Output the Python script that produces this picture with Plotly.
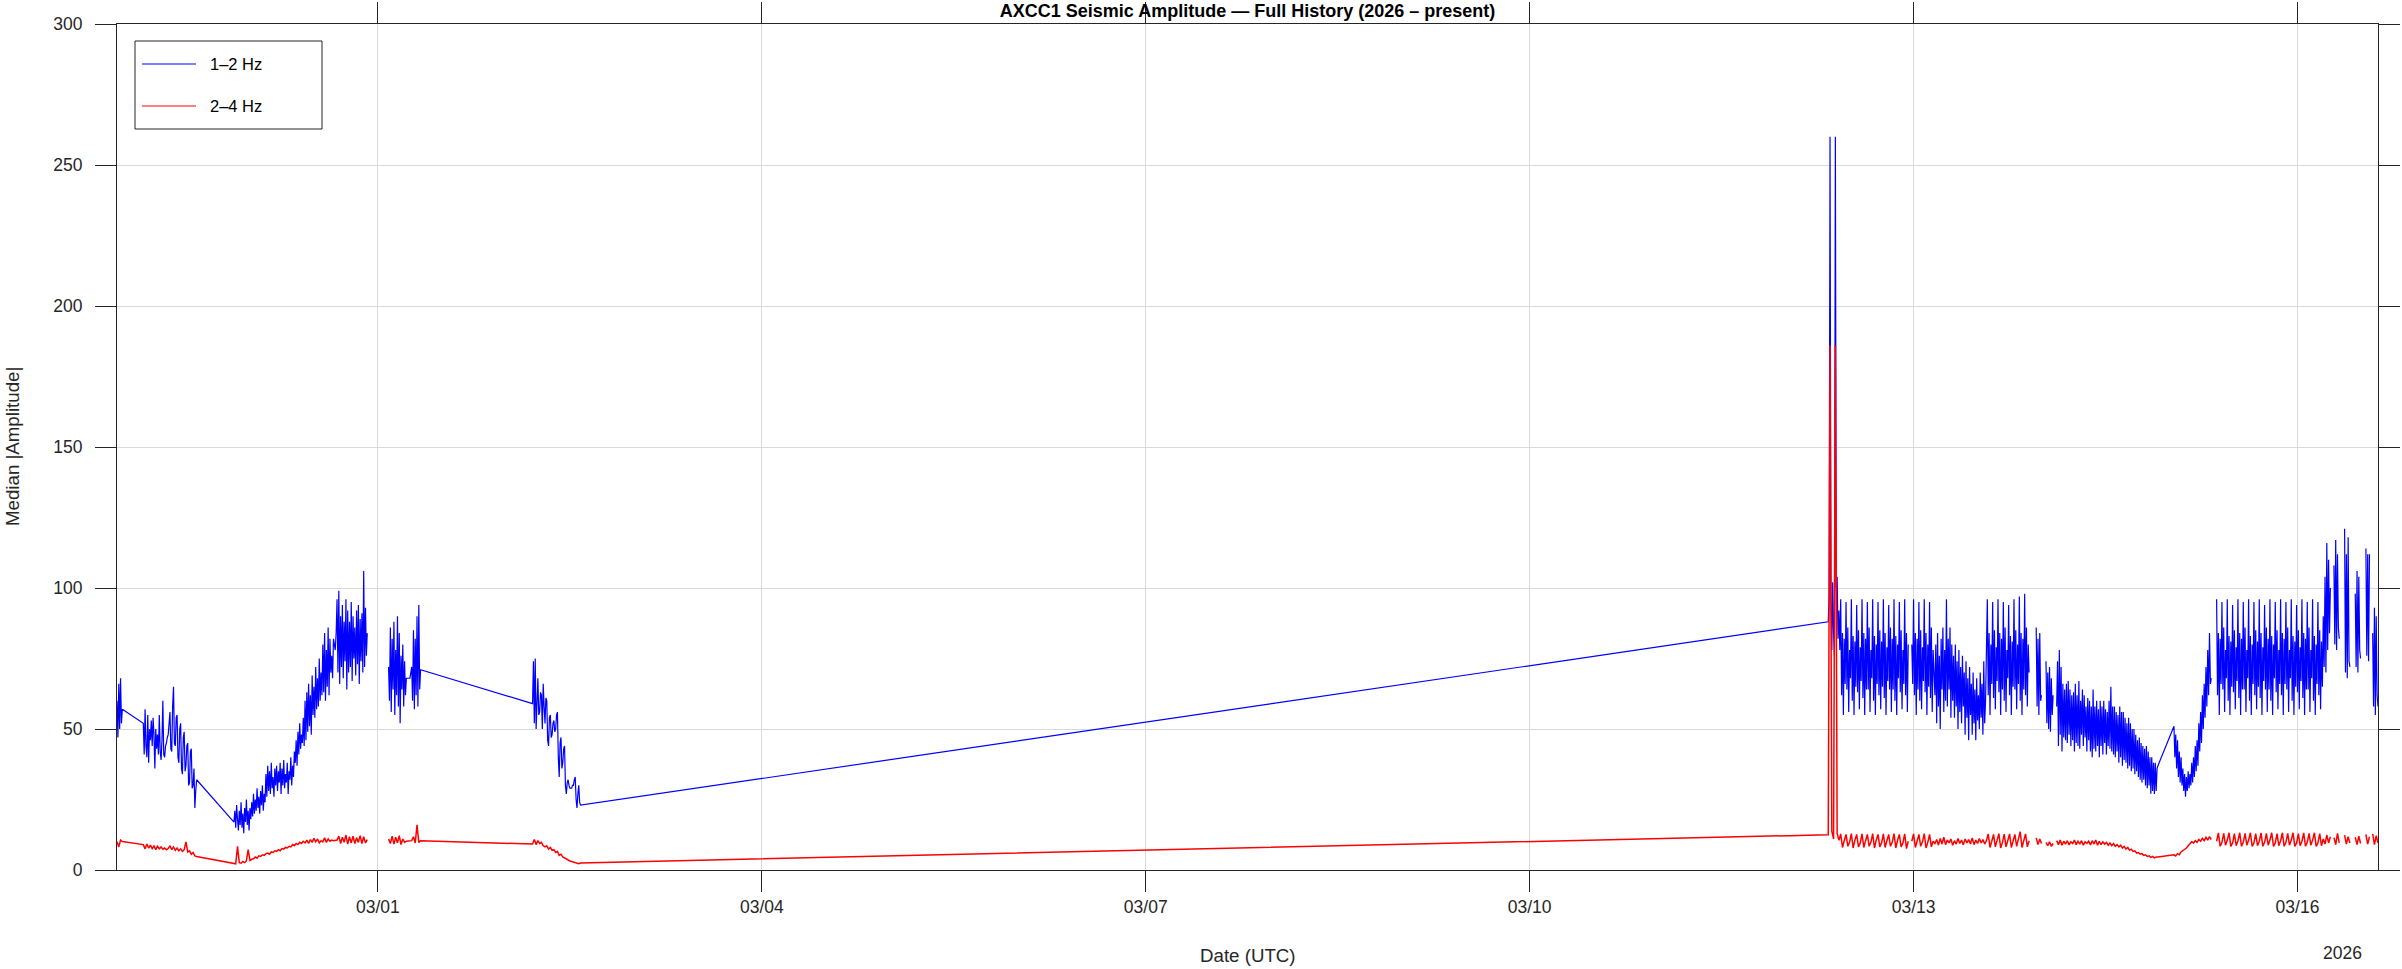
import pandas as pd
import plotly.graph_objects as go

# segment start times and whether each segment is joined to the previous one
seg_start = [
    "2026-02-26 23:04", "2026-02-27 04:00", "2026-02-27 21:00", "2026-03-01 02:00",
    "2026-03-02 05:00", "2026-03-12 08:00", "2026-03-12 23:40", "2026-03-13 23:00",
    "2026-03-14 00:50", "2026-03-14 02:50", "2026-03-15 00:50", "2026-03-15 08:50",
    "2026-03-16 06:50", "2026-03-16 08:50", "2026-03-16 10:50", "2026-03-16 12:50",
    "2026-03-16 14:06",
]
seg_joined = [True, True, True, False, True, True, False, False,
              False, False, True, False, False, False, False, False, False]

# 1-2 Hz median amplitude, 10 min samples
hz12_a = [60, 47, 66, 50, 68, 52, 57]
hz12_b = [52, 41, 57, 44, 40, 55, 38, 50, 46, 53, 44, 54, 48, 36, 50, 43, 48, 41, 55, 42,
          39, 46, 60, 41, 40, 44, 45, 47, 48, 52, 56, 43, 42, 58, 65, 45, 44, 54, 55, 40,
          38, 50, 52, 36, 34, 47, 49, 35, 37, 44, 45, 30, 31, 42, 43, 29, 30, 36, 22, 28,
          32]
hz12_c = [17, 21, 15, 23, 18, 14, 21, 16, 24, 15, 20, 13, 22, 17, 25, 16, 21, 14, 22, 18,
          24, 19, 27, 20, 25, 21, 29, 22, 26, 20, 28, 23, 30, 21, 27, 24, 34, 26, 37, 28,
          35, 27, 38, 29, 33, 26, 36, 30, 37, 28, 35, 31, 38, 27, 36, 30, 39, 29, 34, 31,
          38, 27, 35, 32, 40, 30, 37, 33, 42, 38, 46, 37, 49, 41, 52, 43, 48, 45, 54, 44,
          60, 46, 63, 49, 66, 51, 62, 48, 69, 55, 65, 54, 72, 57, 68, 58, 75, 60, 70, 62,
          80, 63, 84, 60, 78, 65, 86, 62, 82, 70, 76, 68, 82, 80, 78, 84, 96, 70, 99, 66,
          90, 72, 94, 68, 88, 74, 96, 64, 92, 70, 88, 72, 95, 67, 90, 75, 86, 69, 92, 73,
          94, 66, 89, 74, 91, 70, 106, 72, 93, 76, 84]
hz12_d = [72, 60, 86, 56, 82, 64, 88, 55, 78, 62, 90, 58, 84, 52, 76, 64, 80, 58, 74, 62,
          68, 68, 68, 68, 68, 70, 72, 60, 85, 57, 82, 62, 90, 58, 94, 64, 71]
hz12_e = [59, 74, 52, 75, 50, 64, 68, 55, 56, 63, 62, 50, 66, 58, 52, 61, 60, 46, 44, 54,
          55, 47, 48, 52, 53, 49, 50, 55, 56, 40, 33, 45, 47, 36, 38, 43, 44, 30, 27, 31,
          32, 30, 29, 29, 29, 30, 30, 32, 33, 25, 22, 27, 30, 24, 23]
hz12_f = [88, 98, 260, 96, 78, 102, 84, 76, 260, 100, 104, 82, 92, 78,
          96, 62, 84, 55, 82, 66, 95, 64, 86, 56, 78, 68, 96, 60, 83, 55, 81, 65,
          94, 63, 85, 57, 79, 67, 96, 61, 84, 55, 82, 64, 95, 64, 86, 56, 78, 68,
          96, 60, 83, 55, 80, 66, 95, 62, 85, 57, 81, 65, 96, 61, 84, 55, 79, 67,
          94, 64, 86, 56, 82, 64, 96, 60, 83, 55, 80, 68, 95, 63, 85, 57, 78, 66,
          96, 62, 84, 56, 80]
hz12_g = [80, 66, 96, 62, 84, 55, 82, 64, 95, 60, 85, 57, 79, 67, 96, 63, 84, 55, 80, 65,
          95, 61, 86, 56, 78, 70,
          62, 80, 52, 84, 58, 76, 50, 82, 64, 86, 56, 78, 60, 96, 58, 82, 64, 86, 54, 80,
          60, 76, 54, 80, 58, 74, 50, 78, 56, 72, 52, 76, 58, 70, 48, 74, 54, 68, 46, 72,
          55, 66, 48, 70, 52, 64, 46, 68, 53, 62, 50, 70, 54, 66, 48, 74, 52, 60,
          82, 96, 62, 84, 55, 80, 66, 95, 61, 85, 57, 79, 67, 96, 63, 84, 55, 82, 64,
          95, 60, 86, 56, 78, 68, 94, 62, 83, 55, 81, 65, 96, 64, 85, 57, 80, 66,
          97, 60, 84, 55, 82, 64, 98, 62, 86, 58, 80, 70]
hz12_h = [86, 58, 82, 55, 84, 60, 62]
hz12_i = [74, 52, 70, 50, 72, 49, 68, 55, 62]
hz12_j = [58, 74, 44, 78, 48, 72, 42, 66, 47, 64, 46, 66, 45, 67, 48, 64, 44, 62, 46, 63,
          42, 66, 45, 62, 44, 67, 43, 60, 48, 64, 44, 62, 47, 58, 42, 61, 46, 60, 42, 58,
          40, 64, 43, 58, 42, 60, 44, 57, 40, 60, 44, 58, 41, 60, 45, 57, 41, 56, 44, 60,
          43, 65, 42, 58, 41, 58, 40, 56, 42, 55, 38, 58, 40, 56, 37, 56, 39, 54, 38, 52,
          36, 54, 37, 52, 35, 50, 36, 50, 34, 48, 35, 46, 33, 47, 32, 45, 31, 44, 32, 43,
          30, 44, 29, 42, 30, 40, 27, 40, 28, 38, 27, 38, 28, 36, 37]
hz12_k = [51, 40, 48, 36, 46, 33, 42, 31, 40, 30, 36, 28, 34, 26, 33, 28, 35, 29, 34, 30,
          38, 31, 40, 33, 44, 35, 46, 37, 52, 42, 56, 45, 62, 50, 66, 54, 72, 58, 78, 62,
          84, 66, 68]
hz12_l = [96, 62, 84, 55, 82, 66, 95, 64, 86, 56, 78, 68, 96, 60, 83, 55, 81, 65,
          94, 63, 85, 57, 79, 67, 96, 61, 84, 55, 82, 64, 95, 64, 86, 56, 78, 68,
          96, 60, 83, 55, 80, 66, 95, 62, 85, 57, 81, 65, 96, 61, 84, 55, 79, 67,
          94, 64, 86, 56, 82, 64, 96, 60, 83, 55, 80, 68, 95, 63, 85, 57, 78, 66,
          96, 62, 84, 55, 82, 66, 95, 64, 86, 56, 78, 68, 96, 60, 83, 55, 81, 65,
          94, 63, 85, 57, 79, 67, 96, 61, 84, 55, 82, 64, 95, 64, 86, 56, 78, 68,
          96, 60, 83, 55, 80, 66, 95, 62, 85, 57, 81, 65,
          90, 72, 104, 70, 116, 78, 110, 84, 100]
hz12_m = [108, 80, 117, 78, 112, 86, 82]
hz12_n = [121, 70, 112, 68, 118, 74, 72]
hz12_o = [98, 72, 106, 70, 104, 78, 75]
hz12_p = [114, 76, 112, 74, 112]
hz12_q = [84, 58, 93, 55, 90, 62, 58]

# 2-4 Hz median amplitude, 20 min samples
hz24_a = [10.0, 8.2, 10.6, 10.1]
hz24_b = [9.0, 7.5, 9.2, 7.8, 8.8, 7.6, 8.5, 7.2, 8.4, 7.5, 8.2, 7.4, 7.8, 7.2, 7.6, 8.6,
          7.2, 8.2, 7.0, 7.8, 6.8, 7.5, 6.6, 7.2, 10.0, 6.4, 6.8, 5.6, 6.2, 5.0, 4.8]
hz24_c = [2.5, 2.2, 8.4, 2.6, 2.4, 3.0, 2.6, 3.2, 7.2, 3.4, 3.8,
          4.0, 4.6, 4.2, 5.0, 4.8, 5.4, 5.2, 5.8, 6.0, 5.6, 6.4, 6.2, 6.8, 6.6,
          7.2, 6.8, 7.6, 7.4, 8.0, 7.8, 8.4, 8.2, 9.0, 8.6, 9.4, 9.0, 9.8, 9.4, 10.2, 9.6,
          10.6, 9.4, 10.8, 9.8, 11.2, 10.0, 11.0, 9.6, 10.4, 10.0,
          11.4, 9.8, 11.0, 10.2, 10.6, 10.4, 10.5, 10.6,
          12.0, 9.4, 11.6, 9.8, 12.4, 9.2, 11.8, 9.6, 12.0, 9.4, 11.4, 9.8, 12.2, 9.4,
          11.8, 9.6, 10.8]
hz24_d = [11.0, 9.4, 12.0, 9.2, 11.6, 9.6, 12.2, 9.0, 11.0, 9.8, 10.2, 10.2, 10.2, 10.4,
          11.8, 9.6, 16.0, 9.8, 10.4]
hz24_e = [9.2, 10.8, 9.0, 10.4, 9.4, 9.8, 8.6, 8.2, 8.6, 7.4, 8.0, 7.0, 7.2, 6.2, 6.6,
          5.2, 5.6, 4.6, 4.2, 3.8, 3.4, 3.2, 3.0, 2.8, 2.6, 2.4, 2.2, 2.5]
hz24_f = [12.5, 186, 13.8, 11.0, 186, 13.0, 10.5,
          12.8, 8.0, 10.4, 12.6, 8.4, 9.8, 12.9, 7.8, 10.6, 12.6, 8.2, 9.6,
          12.8, 8.0, 10.4, 12.6, 8.4, 9.8, 12.9, 7.8, 10.6, 12.6, 8.2, 9.6,
          12.8, 8.0, 10.4, 12.6, 8.4, 9.8, 12.9, 7.8, 10.6, 12.6, 8.2, 9.6,
          12.8, 7.6, 10.2]
hz24_g = [10.2, 12.8, 8.0, 10.4, 12.6, 8.4, 10.0, 12.9, 7.8, 9.8, 12.6, 8.2, 10.2,
          9.4, 10.8, 8.8, 11.2, 9.2, 11.6, 9.0, 10.6, 9.6, 11.0, 8.8, 10.4, 9.2, 11.2, 9.4,
          10.6, 8.9, 11.0, 9.6, 10.8, 9.2, 11.4, 9.0, 10.6, 9.4, 11.2, 9.6, 10.8, 9.2,
          10.4, 12.8, 8.0, 10.2, 12.6, 8.2, 10.6, 12.9, 7.8, 9.8, 12.7, 8.2, 10.4, 12.8,
          8.0, 10.2, 12.6, 8.4, 10.6, 13.6, 8.0, 10.0, 12.8, 8.2, 10.4]
hz24_h = [11.4, 9.0, 11.0, 9.4]
hz24_i = [9.8, 8.6, 10.0, 8.4, 9.4]
hz24_j = [10.4, 9.0, 10.6, 8.8, 10.2, 9.2, 10.4, 8.9, 10.0, 9.4,
          10.6, 9.0, 10.2, 9.2, 10.4, 8.8, 10.0, 9.4, 10.2, 8.9,
          10.4, 9.2, 10.6, 8.8, 10.2, 9.0, 10.0, 9.2, 9.8, 8.8,
          9.6, 8.6, 9.4, 8.4, 9.0, 8.2, 8.8, 7.8, 8.4, 7.4,
          8.0, 7.0, 7.4, 6.6, 6.8, 6.0, 6.2, 5.6, 5.8, 5.2,
          5.4, 4.8, 5.0, 4.5, 4.8, 4.3, 4.6, 4.6]
hz24_k = [5.4, 5.0, 5.8, 5.4, 6.4, 6.8, 7.4, 7.8, 8.6, 9.4, 10.0, 9.6, 10.4, 9.8, 10.8,
          10.2, 11.2, 10.4, 11.6, 10.6, 11.8, 10.8]
hz24_l = [10.2, 13.2, 8.4, 9.8, 13.0, 8.8, 10.6, 13.2, 8.4, 9.6, 12.9, 8.6,
          10.4, 13.2, 8.4, 9.8, 13.0, 8.8, 10.6, 13.2, 8.4, 9.6, 12.9, 8.6,
          10.2, 13.2, 8.4, 9.8, 13.0, 8.8, 10.6, 13.2, 8.4, 9.6, 12.9, 8.6,
          10.4, 13.2, 8.4, 9.8, 13.0, 8.8, 10.6, 13.2, 8.4, 9.6, 12.9, 8.6,
          10.2, 13.2, 8.4, 9.8, 13.0, 8.8, 10.6, 13.2, 8.4, 9.6, 12.9, 8.6,
          11.0, 9.2, 12.4, 9.6, 11.8]
hz24_m = [11.5, 9.0, 13.0, 9.6]
hz24_n = [12.4, 9.2, 11.8, 9.6]
hz24_o = [11.6, 9.0, 12.0, 9.4]
hz24_p = [12.6, 9.2, 11.8]
hz24_q = [12.8, 9.0, 12.2, 9.6]

hz12 = [hz12_a, hz12_b, hz12_c, hz12_d, hz12_e, hz12_f, hz12_g, hz12_h, hz12_i,
        hz12_j, hz12_k, hz12_l, hz12_m, hz12_n, hz12_o, hz12_p, hz12_q]
hz24 = [hz24_a, hz24_b, hz24_c, hz24_d, hz24_e, hz24_f, hz24_g, hz24_h, hz24_i,
        hz24_j, hz24_k, hz24_l, hz24_m, hz24_n, hz24_o, hz24_p, hz24_q]

x_range = ["2026-02-26 23:04", "2026-03-16 15:06"]

FONT = "Liberation Sans, Arial, Helvetica, sans-serif"
INK = "#262626"

# plot area in pixels (figure is 2402 x 969)
L, R, T, B = 117, 2378, 24, 870


def build(segments, freq):
    xs, ys = [], []
    for start, joined, vals in zip(seg_start, seg_joined, segments):
        t = pd.date_range(start, periods=len(vals), freq=freq)
        if xs and not joined:
            # NaN sample -> line break
            xs.append(t[0])
            ys.append(None)
        xs.extend(t)
        ys.extend(vals)
    return xs, ys


def px(x):
    return (x - L) / (R - L)


def py(y):
    return (B - y) / (B - T)


x12, y12 = build(hz12, "10min")
x24, y24 = build(hz24, "20min")

fig = go.Figure()
fig.add_trace(go.Scatter(x=x12, y=y12, mode="lines", name="1–2 Hz",
                         line=dict(color="#0000ff", width=1.2), connectgaps=False))
fig.add_trace(go.Scatter(x=x24, y=y24, mode="lines", name="2–4 Hz",
                         line=dict(color="#ff0000", width=1.5), connectgaps=False))

axis_style = dict(
    ticks="outside",
    ticklen=21,
    tickwidth=1,
    tickcolor=INK,
    showline=True,
    linecolor=INK,
    linewidth=1,
    mirror="allticks",
    showgrid=True,
    gridcolor="#d9d9d9",
    gridwidth=1,
    zeroline=False,
    tickfont=dict(family=FONT, size=17.5, color=INK),
)
fig.update_xaxes(type="date", range=x_range, tick0="2026-03-01",
                 dtick=3 * 86400000, tickformat="%m/%d", **axis_style)
fig.update_yaxes(range=[0, 300], tick0=0, dtick=50, ticklabelstandoff=9, **axis_style)

# legend box drawn the MATLAB way
legend_rows = [("1–2 Hz", "#0000ff", 64), ("2–4 Hz", "#ff0000", 106)]
shapes = [dict(type="rect", xref="paper", yref="paper",
               x0=px(135), x1=px(322), y0=py(129), y1=py(41),
               line=dict(color=INK, width=1), fillcolor="white", layer="above")]
annotations = []
for label, color, row_y in legend_rows:
    shapes.append(dict(type="line", xref="paper", yref="paper",
                       x0=px(142), x1=px(196), y0=py(row_y), y1=py(row_y),
                       line=dict(color=color, width=1), layer="above"))
    annotations.append(dict(text=label, xref="paper", yref="paper",
                            x=px(208), y=py(row_y), xanchor="left", yanchor="middle",
                            showarrow=False, font=dict(family=FONT, size=16.5, color="black")))

annotations += [
    dict(text="Date (UTC)", xref="paper", yref="paper", x=0.5, y=py(955),
         xanchor="center", yanchor="middle", showarrow=False,
         font=dict(family=FONT, size=18.7, color=INK)),
    dict(text="Median |Amplitude|", xref="paper", yref="paper", x=px(12), y=0.5,
         xanchor="center", yanchor="middle", textangle=-90, showarrow=False,
         font=dict(family=FONT, size=18.7, color=INK)),
    dict(text="2026", xref="paper", yref="paper", x=px(2364), y=py(953),
         xanchor="right", yanchor="middle", showarrow=False,
         font=dict(family=FONT, size=17.5, color=INK)),
]

fig.update_layout(
    width=2402,
    height=969,
    margin=dict(l=L, r=2402 - R, t=T, b=969 - B, autoexpand=False),
    paper_bgcolor="white",
    plot_bgcolor="white",
    showlegend=False,
    title=dict(text="<b>AXCC1 Seismic Amplitude — Full History (2026 – present)</b>",
               x=0.5, xanchor="center", xref="paper",
               y=1 - 11 / 969, yref="container", yanchor="middle",
               font=dict(family=FONT, size=18, color="black")),
    shapes=shapes,
    annotations=annotations,
    hovermode=False,
)

# page body margin would otherwise shift the 2402x969 figure
fig.write_html("out.html", config={"displayModeBar": False},
               post_script="document.body.style.margin='0';")
